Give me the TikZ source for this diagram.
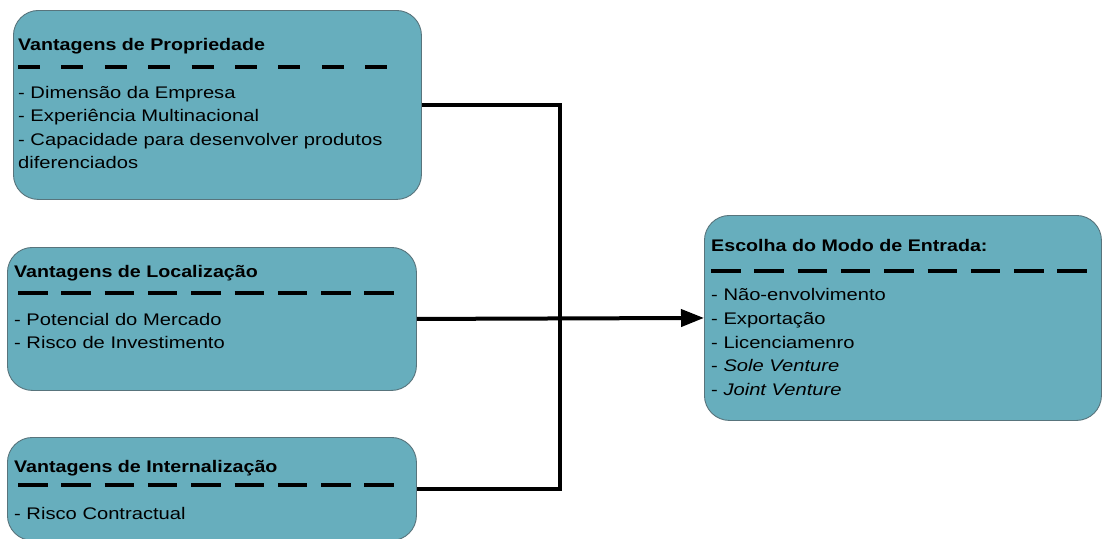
\documentclass[tikz,border=0pt]{standalone}
\usepackage{fontspec}
\setmainfont{Liberation Sans}[FakeStretch=1.2, BoldFeatures={FakeStretch=1.17}]
\usetikzlibrary{arrows.meta}
\definecolor{boxfill}{RGB}{103,174,189}
\definecolor{boxline}{RGB}{88,116,124}
\begin{document}
\begin{tikzpicture}[x=1pt,y=-1pt,
  box/.style={draw=boxline, line width=0.9pt, fill=boxfill, rounded corners=25pt,
              anchor=north west, inner sep=0pt},
  txt/.style={anchor=base west, inner sep=0pt, font=\fontsize{16.8}{19}\selectfont},
  ttl/.style={anchor=base west, inner sep=0pt, font=\fontsize{16.8}{19}\selectfont\bfseries},
  sepA/.style={line width=4.5pt, dash pattern=on 22pt off 21.4pt},
  sepB/.style={line width=4.5pt, dash pattern=on 29.5pt off 13.8pt},
  conn/.style={line width=4pt, line join=miter}
]
\useasboundingbox (0,0) rectangle (1102,538);
\fill[white] (0,0) rectangle (1102,538);

% boxes
\node[box, minimum width=408pt, minimum height=189pt] (b1) at (13,10) {};
\node[box, minimum width=409pt, minimum height=143pt] (b2) at (7,247) {};
\node[box, minimum width=409pt, minimum height=103pt] (b3) at (7,437) {};
\node[box, minimum width=397pt, minimum height=205pt] (b4) at (704,215) {};

% box 1
\node[ttl] (t1) at (18,50) {Vantagens de Propriedade};
\draw[sepA] (18,67) -- (398,67);
\node[txt] (t1a) at (18,98) {- Dimensão da Empresa};
\node[txt] (t1b) at (18,121.5) {- Experiência Multinacional};
\node[txt] (t1c) at (18,145) {- Capacidade para desenvolver produtos};
\node[txt] (t1d) at (18,168.5) {diferenciados};

% box 2
\node[ttl] (t2) at (14,277) {Vantagens de Localização};
\draw[sepB] (18,293) -- (398,293);
\node[txt] (t2a) at (14,325) {- Potencial do Mercado};
\node[txt] (t2b) at (14,348.5) {- Risco de Investimento};

% box 3
\node[ttl] (t3) at (14,472) {Vantagens de Internalização};
\draw[sepB] (18,485) -- (398,485);
\node[txt] (t3a) at (14,519) {- Risco Contractual};

% box 4
\node[ttl] (t4) at (711,251) {Escolha do Modo de Entrada:};
\draw[sepB] (711,271) -- (1091,271);
\node[txt] (t4a) at (711,300.5) {- Não-envolvimento};
\node[txt] (t4b) at (711,324.3) {- Exportação};
\node[txt] (t4c) at (711,348.1) {- Licenciamenro};
\node[txt] (t4d) at (711,371.9) {- \textit{Sole Venture}};
\node[txt] (t4e) at (711,395.7) {- \textit{Joint Venture}};

% connectors
\coordinate (j) at (560,0);
\draw[conn] (b1.east) -- (b1.east -| j) -- (b3.east -| j) -- (b3.east);
\draw[conn, -{Triangle[length=23pt,width=17pt]}] (b2.east) -- (b4.west);
\end{tikzpicture}
\end{document}
